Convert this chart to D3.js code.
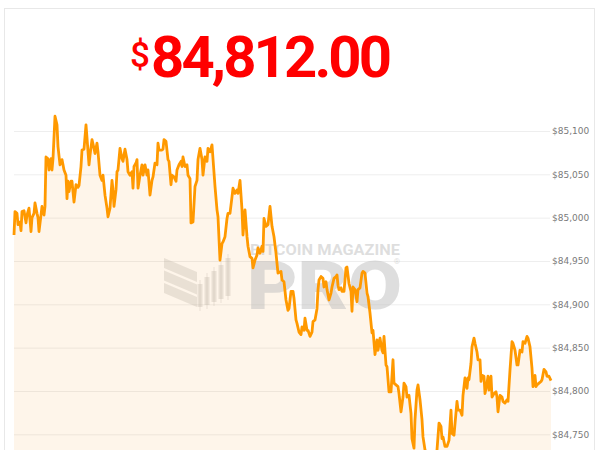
<!DOCTYPE html>
<html>
<head>
<meta charset="utf-8">
<script src="https://cdn.jsdelivr.net/npm/d3@7"></script>
<style>
  body { margin: 0; background: #fff; }
  svg { display: block; }
</style>
</head>
<body>
<div id="vis"></div>
<script>
// Minutes since window start and BTC price at that minute
const minutes = [0,1,3,4,6,7,8,10,12,13,15,17,18,20,21,23,24,25,27,28,30,31,32,34,35,37,38,39,41,43,44,46,48,50,52,53,54,55,57,58,60,62,64,65,67,68,70,72,73,75,76,78,80,81,83,84,86,88,89,91,93,94,96,98,99,100,102,103,104,106,108,109,111,113,114,116,118,119,120,122,123,124,126,128,129,131,133,134,136,138,139,141,143,144,145,148,149,150,152,154,155,157,158,160,162,163,165,167,168,169,171,173,174,176,177,179,181,183,184,186,
  188,189,191,193,194,196,198,199,201,203,204,206,208,209,211,213,214,216,218,219,221,223,224,226,228,229,231,233,234,236,238,239,241,243,244,246,248,249,250,252,254,256,258,260,262,
  264,267,268,270,272,274,275,277,279,280,282,283,285,287,288,290,291,293,294,296,298,299,301,303,304,305,307,309,310,312,313,315,317,318,320,322,323,324,325,327,328,330,332,333,335,337,338,339,341,343,344,346,348,349,351,353,354,356,358,359,361,363,364,
  366,368,369,370,372,373,375,377,379,380,382,384,385,387,389,390,392,393,395,397,398,400,401,403,404,406,408,409,411,414,416,418,419,421,423,425,427,428,429,431,433,435,437,438,440,443,444,446,448,449,451,453,454,455,457,458,460,461,463,464,466,467,468,470,471,473,474,475,477,478,480,482,483,484,486,488,489,491,493,494,496,498,499,501,503,504,506,508,509,511,513,514,516,518,519,521,522,523,525,527,528,530,532,533,535,537]
const prices = [84980,85007,85005,84992,84995,84985,85007,85008,84994,85003,85011,84984,85000,85005,85017,85005,85000,84984,85003,85013,85003,85013,85070,85068,85055,85068,85055,85068,85117,85107,85082,85061,85067,85055,85049,85022,85042,85030,85042,85042,85018,85038,85035,85037,85059,85078,85079,85107,85092,85061,85072,85090,85080,85074,85086,85076,85049,85043,85049,85026,85011,85001,85011,85043,85032,85013,85032,85053,85055,85080,85068,85065,85079,85067,85053,85049,85053,85034,85059,85063,85067,85034,85049,85061,85049,85061,85049,85055,85026,85043,85047,85063,85061,85086,85078,85078,85079,85090,85088,85067,85065,85038,85049,85047,85042,85055,85061,85065,85059,85070,85059,85061,85049,85045,84994,84995,85036,85043,85067,85080,
  85067,85049,85070,85065,85080,85076,85084,85068,85036,85009,85001,84951,84970,84972,84978,84999,85005,85005,85024,85034,85028,85032,85028,85043,85009,84980,85009,84978,84967,84955,84953,84942,84951,84957,84965,84959,84967,84961,84999,84990,84992,85013,84990,84978,84959,
  84936,84938,84928,84926,84905,84893,84895,84915,84915,84907,84882,84878,84868,84865,84874,84870,84884,84870,84870,84863,84868,84880,84882,84895,84917,84928,84932,84930,84920,84926,84917,84905,84913,84920,84930,84932,84934,84922,84917,84919,84915,84915,84942,84943,84924,84915,84892,84920,84917,84903,84917,84919,84936,84938,84936,84913,84909,84890,84867,84870,84842,84859,84847,
  84861,84847,84844,84863,84830,84828,84799,84799,84836,84809,84807,84805,84797,84776,84793,84809,84805,84793,84795,84774,84745,84734,84767,84801,84807,84790,84767,84747,84732,84718,84714,84711,84716,84722,84732,84763,84759,84745,84747,84736,84736,84743,84778,84751,84749,84788,84778,84778,84772,84795,84815,84803,84815,84813,84832,84851,84861,84855,84845,84836,84836,84811,84818,84817,84797,84809,84817,84801,84817,84793,84797,84799,84793,84776,84795,84793,84788,84786,84790,84788,84824,84857,84855,84847,84830,84830,84847,84845,84857,84855,84863,84861,84851,84826,84805,84818,84805,84807,84809,84811,84813,84825,84822,84817,84817,84812]

const yTicks = [84750, 84800, 84850, 84900, 84950, 85000, 85050, 85100]
const lastPrice = 84812.00

const width = 600, height = 450
const plot = { left: 14, right: 551 }

const dataset = minutes.map((m, i) => ({ minute: m, price: prices[i] }))

const svg = d3.select("#vis").append("svg")
  .attr("width", width)
  .attr("height", height)

// card frame
svg.append("rect")
  .attr("x", 4.5).attr("y", 8.5)
  .attr("width", 590).attr("height", 480)
  .attr("fill", "#fff")
  .attr("stroke", "#e8e8e8")

// headline price
let fmtPrice = d3.format(",.2f")
svg.append("text")
  .attr("x", 130).attr("y", 67)
  .attr("fill", "#ff0000")
  .style("font-family", "Roboto, sans-serif")
  .style("font-weight", "500")
  .style("font-size", "35px")
  .text("$")
svg.append("text")
  .attr("x", 151).attr("y", 76.5)
  .attr("textLength", 241).attr("lengthAdjust", "spacing")
  .attr("fill", "#ff0000")
  .style("font-family", "Roboto, sans-serif")
  .style("font-weight", "700")
  .style("font-size", "58px")
  .text(fmtPrice(lastPrice))

let x = d3.scaleLinear()
  .domain([0, d3.max(minutes)])
  .range([plot.left, plot.right])
let y = d3.scaleLinear()
  .domain([84750, 85100])
  .range([434.3, 131])

// gridlines + labels on the right
let yAxis = svg.append("g")
  .attr("transform", `translate(${plot.right - 1},0)`)
  .call(d3.axisRight(y)
    .tickValues(yTicks)
    .tickSize(-(plot.right - 1 - plot.left))
    .tickPadding(2)
    .tickFormat(d => "$" + d3.format(",")(d)))
yAxis.select(".domain").remove()
yAxis.selectAll(".tick line")
  .attr("stroke", "#eeeeee")
yAxis.selectAll(".tick text")
  .attr("fill", "#7a7a7a")
  .style("font-family", "'DejaVu Sans', Verdana, sans-serif")
  .style("font-size", "9px")

// soft area under the price
svg.append("path")
  .datum(dataset)
  .attr("fill", "#f7931a")
  .attr("fill-opacity", 0.09)
  .attr("d", d3.area()
    .x(d => x(d.minute))
    .y0(height + 20)
    .y1(d => y(d.price)))

// watermark
let wm = svg.append("g").attr("pointer-events", "none")
let stripes = [258, 270.5, 283]
stripes.forEach(t => {
  wm.append("path")
    .attr("d", `M164,${t} L197,${t + 14} L197,${t + 24} L164,${t + 10} Z`)
    .attr("fill", "#b9aea3").attr("fill-opacity", 0.3)
})
let candles = [
  { cx: 200, top: 284, bot: 307 },
  { cx: 207, top: 277, bot: 305 },
  { cx: 214, top: 271, bot: 302 },
  { cx: 221, top: 265, bot: 299 },
  { cx: 228, top: 258, bot: 296 }
]
candles.forEach(c => {
  wm.append("line")
    .attr("x1", c.cx).attr("x2", c.cx)
    .attr("y1", c.top - 4).attr("y2", c.bot + 4)
    .attr("stroke", "#b9aea3").attr("stroke-opacity", 0.3)
  wm.append("rect")
    .attr("x", c.cx - 2.5).attr("y", c.top)
    .attr("width", 5).attr("height", c.bot - c.top)
    .attr("fill", "#b9aea3").attr("fill-opacity", 0.3)
})
wm.append("text")
  .attr("x", 250).attr("y", 255)
  .attr("textLength", 150).attr("lengthAdjust", "spacingAndGlyphs")
  .attr("fill", "#bdbdbd").attr("fill-opacity", 0.5)
  .style("font-family", "Roboto, sans-serif")
  .style("font-weight", "700")
  .style("font-size", "15px")
  .text("BITCOIN MAGAZINE")
wm.append("text")
  .attr("x", 247).attr("y", 309)
  .attr("textLength", 155).attr("lengthAdjust", "spacingAndGlyphs")
  .attr("fill", "#bdbdbd").attr("fill-opacity", 0.5)
  .style("font-family", "Roboto, sans-serif")
  .style("font-weight", "900")
  .style("font-size", "66px")
  .text("PRO")
wm.append("text")
  .attr("x", 397).attr("y", 264)
  .attr("text-anchor", "middle")
  .attr("fill", "#bdbdbd").attr("fill-opacity", 0.5)
  .style("font-family", "Roboto, sans-serif")
  .style("font-size", "8px")
  .text("®")

// price line
svg.append("path")
  .datum(dataset)
  .attr("fill", "none")
  .attr("stroke", "#ff9900")
  .attr("stroke-width", 2.8)
  .attr("stroke-linejoin", "round")
  .attr("d", d3.line()
    .x(d => x(d.minute))
    .y(d => y(d.price)))
</script>
</body>
</html>
